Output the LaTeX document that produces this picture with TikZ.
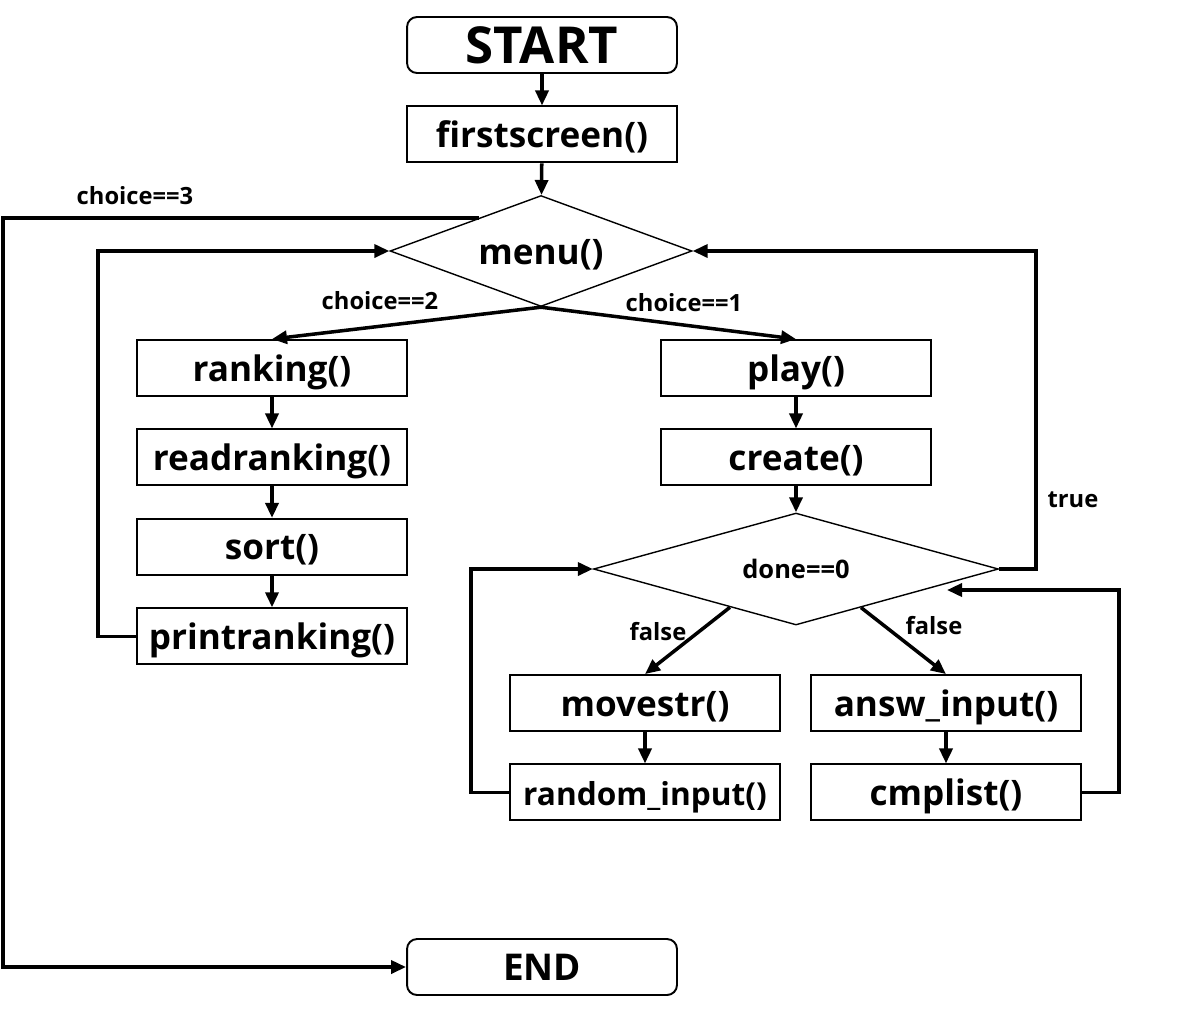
\documentclass[tikz,border=0pt]{standalone}
\usepackage{fontspec}
\setmainfont{Open Sans}
\usetikzlibrary{positioning}
\usetikzlibrary{shapes.geometric,arrows.meta,calc}

\begin{document}
\begin{tikzpicture}[x=0.02cm, y=-0.02cm, node distance={6.3mm},
  box/.style = {draw, line width=1.1pt, minimum width=5.4cm, minimum height=1.12cm, inner sep=0pt, text height=0.65cm, text depth=0.13cm, font=\bfseries\fontsize{20}{22}\selectfont},
  term/.style = {box, rounded corners=2mm},
  cond/.style = {draw, diamond, line width=0.8pt, inner sep=0pt, aspect=3, font=\bfseries\fontsize{20}{22}\selectfont},
  flow/.style = {-{Triangle[length=3mm,width=2.6mm]}, line width=2pt},
  lab/.style = {font=\bfseries\fontsize{13.5}{15}\selectfont}]
            \useasboundingbox (0,0) rectangle (1195,1012);
            % Nodes
            \node[term, font=\bfseries\fontsize{29}{31}\selectfont, text height=0.73cm, text depth=0cm] (start) at (542,45) {START};
            \node[box] (first) [below=of start] {firstscreen()};
            \node[cond, minimum width=6.04cm, minimum height=2.22cm, text height=0.65cm, text depth=0.13cm] (menu) at (541,251) {menu()};
            \node[box] (rank) at (272,368) {ranking()};
            \node[box] (read) [below=of rank] {readranking()};
            \node[box] (sort) [below=of read] {sort()};
            \node[box] (print) [below=of sort] {printranking()};
            \node[box] (play) at (796,368) {play()};
            \node[box] (create) [below=of play] {create()};
            \node[cond, minimum width=8.1cm, minimum height=2.24cm, font=\bfseries\fontsize{14.5}{16}\selectfont] (done) at (796,569) {done==0};
            \node[box] (move) at (645,703) {movestr()};
            \node[box, font=\bfseries\fontsize{18}{20}\selectfont] (rand) [below=of move] {random\_input()};
            \node[box] (answ) at (946,703) {answ\_input()};
            \node[box] (cmp) [below=of answ] {cmplist()};
            \node[term, font=\bfseries\fontsize{21}{23}\selectfont] (end) at (542,967) {END};
            % Labels
            \node[lab] (c3) at (135,196) {choice==3};
            \node[lab] (c2) at (380,301) {choice==2};
            \node[lab] (c1) at (684,303) {choice==1};
            \node[lab] (t) at (1073,500) {true};
            \node[lab] (f1) at (658,632) {false};
            \node[lab] (f2) at (934,626) {false};
            \coordinate (out) at ($(menu.west)!0.59!(menu.north)$);
            \coordinate (lft) at ($(done.west)!0.675!(done.south)$);
            \coordinate (rgt) at ($(done.south)!0.32!(done.east)$);
            \coordinate (back) at (947,590);
            % Edges
            \draw[flow] (start) -- (first);
            \draw[flow] (first) -- (menu);
            \draw[flow] (menu.south) -- (rank.north);
            \draw[flow] (menu.south) -- (play.north);
            \draw[flow] (rank) -- (read);
            \draw[flow] (read) -- (sort);
            \draw[flow] (sort) -- (print);
            \draw[flow] (print.west) -- ++(-38,0) |- (menu.west);
            \draw[flow] (out) -- ++(-476,0) |- (end.west);
            \draw[flow] (play) -- (create);
            \draw[flow] (create) -- (done);
            \draw[flow] (done.east) -- ++(37,0) |- (menu.east);
            \draw[flow] (lft) -- (move.north);
            \draw[flow] (rgt) -- (answ.north);
            \draw[flow] (move) -- (rand);
            \draw[flow] (answ) -- (cmp);
            \draw[flow] (rand.west) -- ++(-38,0) |- (done.west);
            \draw[flow] (cmp.east) -- ++(37,0) |- (back);
\end{tikzpicture}
\end{document}
